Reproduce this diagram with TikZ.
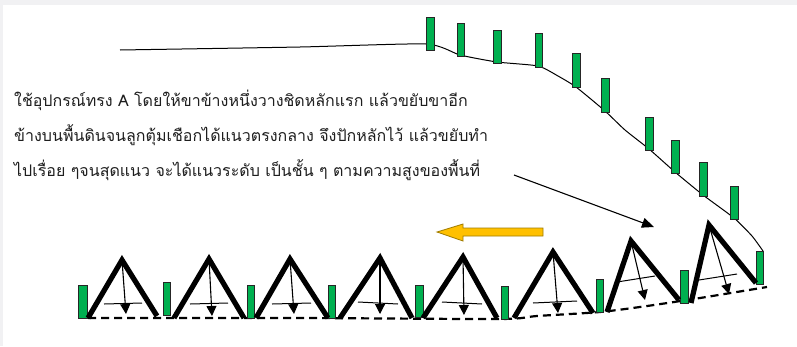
\documentclass[tikz,border=0pt]{standalone}
\usepackage{fontspec}
\usetikzlibrary{arrows.meta}
\newfontfamily\thaifont[Script=Thai]{Loma}
\definecolor{stakegreen}{HTML}{00B050}
\definecolor{arrowgold}{HTML}{FFC000}
\definecolor{arrowedge}{HTML}{A07C00}
\definecolor{pagegray}{HTML}{F1F1F3}
\definecolor{inkgray}{HTML}{1E1E1E}
\tikzset{
  stake/.style={fill=stakegreen, draw=black!85, line width=0.9pt},
  leg/.style={line width=5.2pt, line join=miter, line cap=butt},
  plumb/.style={line width=1.1pt, -{Triangle[width=10pt,length=10pt]}},
  crossbar/.style={line width=1pt},
  ground/.style={line width=1pt},
  levelline/.style={line width=2.2pt, dash pattern=on 8pt off 5pt},
  pointer/.style={line width=1.1pt, -{Triangle[width=10pt,length=12pt]}},
  caption/.style={anchor=base west, inner sep=0pt, font=\thaifont\fontsize{16}{18}\selectfont, text=inkgray},
}
% one stake: #1 name, lower-left corner #2, upper-right corner #3
\newcommand\stakebox[3]{\draw[stake] #2 rectangle #3 coordinate (#1);}
% one A-frame: left foot, apex, right foot, plumb tip, crossbar ends
\newcommand\aframe[6]{%
  \draw[leg] #1 -- #2 -- #3;
  \draw[crossbar] #5 -- #6;
  \draw[plumb] #2 -- #4;}
\begin{document}
\begin{tikzpicture}[x=1pt,y=-1pt]
  % page
  \fill[pagegray] (0,0) rectangle (797,346);
  \fill[white] (3,5) rectangle (797,346);
  \useasboundingbox (0,0) rectangle (797,346);

  % slope profile with the first line of stakes
  \draw[ground] plot[smooth, tension=0.35] coordinates {
    (120,50) (300,47) (426,44) (460,55) (497,62) (538,66) (558,76)
    (576,87) (605,111) (625,130) (649,149) (675,172) (703,195)
    (734,218) (752,236) (763,251)};
  \stakebox{t1}{(426,50)}{(434,17)}
  \stakebox{t2}{(457,56)}{(464,23)}
  \stakebox{t3}{(493,63)}{(501,30)}
  \stakebox{t4}{(535,67)}{(542,33)}
  \stakebox{t5}{(572,87)}{(580,53)}
  \stakebox{t6}{(601,112)}{(609,78)}
  \stakebox{t7}{(645,150)}{(653,117)}
  \stakebox{t8}{(671,173)}{(679,140)}
  \stakebox{t9}{(699,196)}{(707,162)}
  \stakebox{t10}{(730,219)}{(738,186)}

  % description
  \node[caption] (l1) at (14,106) {ใช้อุปกรณ์ทรง A โดยให้ขาข้างหนึ่งวางชิดหลักแรก แล้วขยับขาอีก};
  \node[caption] (l2) at (14,141) {ข้างบนพื้นดินจนลูกตุ้มเชือกได้แนวตรงกลาง จึงปักหลักไว้ แล้วขยับทำ};
  \node[caption] (l3) at (14,176) {ไปเรื่อย ๆจนสุดแนว จะได้แนวระดับ เป็นชั้น ๆ ตามความสูงของพื้นที่};

  \coordinate (ps) at (514,175);
  \coordinate (pe) at (654,227);
  \draw[pointer] (ps) -- (pe);

  % direction of work
  \draw[fill=arrowgold, draw=arrowedge, line width=0.8pt]
    (543,228) -- (463,228) -- (463,224) -- (437,232) -- (463,241)
    -- (463,236) -- (543,236) -- cycle;

  % contour level line
  \draw[levelline] plot[smooth, tension=0.4] coordinates {
    (88,318) (300,318) (500,319) (537,316) (600,312) (647,306)
    (700,298) (767,287)};

  % stakes along the contour
  \stakebox{b1}{(78,318)}{(87,285)}
  \stakebox{b2}{(163,315)}{(170,282)}
  \stakebox{b3}{(247,318)}{(254,285)}
  \stakebox{b4}{(328,318)}{(335,285)}
  \stakebox{b5}{(415,317)}{(423,285)}
  \stakebox{b6}{(501,319)}{(508,286)}
  \stakebox{b7}{(596,312)}{(603,279)}
  \stakebox{b8}{(680,303)}{(688,270)}
  \stakebox{b9}{(756,284)}{(763,251)}

  % A-frame positions
  \aframe{(88,318)}{(122,260)}{(157,316)}{(126,314)}{(104,304)}{(142,303)}
  \aframe{(174,318)}{(209,259)}{(244,318)}{(212,316)}{(190,304)}{(228,303)}
  \aframe{(256,318)}{(290,259)}{(328,318)}{(294,314)}{(272,304)}{(311,303)}
  \aframe{(340,318)}{(380,258)}{(412,318)}{(380,314)}{(358,302)}{(398,304)}
  \aframe{(423,318)}{(463,257)}{(497,318)}{(464,315)}{(442,302)}{(482,304)}
  \aframe{(514,318)}{(553,252)}{(593,313)}{(558,313)}{(533,303)}{(577,301)}
  \aframe{(607,312)}{(631,241)}{(679,300)}{(645,300)}{(617,282)}{(655,276)}
  \aframe{(691,303)}{(709,225)}{(756,283)}{(729,294)}{(699,280)}{(737,274)}
\end{tikzpicture}
\end{document}
